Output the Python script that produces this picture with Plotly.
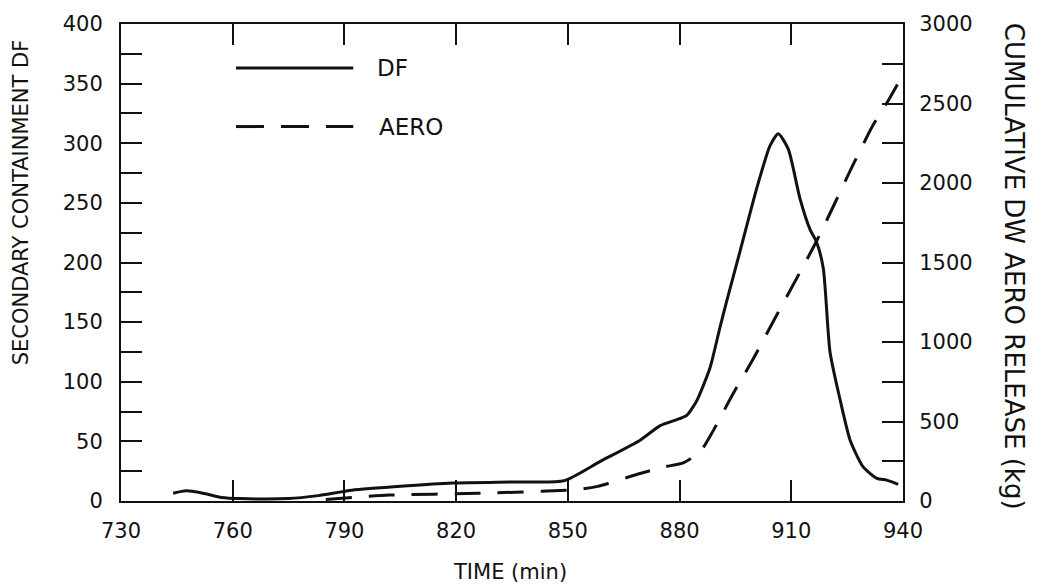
import plotly.graph_objects as go

# ---- data ----
df_time = [744, 747.5, 752, 757, 762, 775, 783, 792, 806, 819, 837, 849, 858.6, 869.4,
           874.7, 880, 882, 884.6, 888.2, 890.8, 892.6, 896.2, 900.7, 904.3, 906.5,
           909.2, 912.3, 915, 916.8, 918.6, 920.4, 923.1, 925.8, 929.3, 933, 935.6, 938.7]
df_value = [6.5, 8.5, 6.5, 3, 2, 2, 4.5, 9, 12.5, 15, 16, 17, 33, 51,
            63, 69, 72, 84, 112, 145, 167, 209, 262, 298, 308,
            295, 254, 228, 217, 195, 125, 85, 51, 28.6, 19, 17.5, 14]

aero_time = [785, 802, 826, 853, 858, 869.4, 876, 881, 885.5, 888.6, 894.4, 899.8,
             905.4, 916.8, 926.6, 932, 935.6, 938.5]
aero_value = [10, 37, 48, 73, 92, 173, 215, 240, 309, 424, 676, 895,
              1140, 1635, 2115, 2366, 2501, 2620]

x_ticks = [730, 760, 790, 820, 850, 880, 910, 940]
left_ticks = [0, 50, 100, 150, 200, 250, 300, 350, 400]
right_ticks = [0, 500, 1000, 1500, 2000, 2500, 3000]

FONT = "DejaVu Sans"
BLACK = "#111111"

fig = go.Figure()
fig.add_trace(go.Scatter(x=df_time, y=df_value, mode="lines", name="DF",
                         line=dict(color=BLACK, width=3, shape="spline", smoothing=0.6),
                         showlegend=False))
fig.add_trace(go.Scatter(x=aero_time, y=aero_value, mode="lines", name="AERO", yaxis="y2",
                         line=dict(color=BLACK, width=3, dash="26px,17px",
                                   shape="spline", smoothing=0.6),
                         showlegend=False))

axis_common = dict(showline=True, linecolor=BLACK, linewidth=2, ticks="inside",
                   ticklen=21, tickwidth=1.5, tickcolor=BLACK, showgrid=False,
                   zeroline=False, tickfont=dict(family=FONT, size=21, color=BLACK))

fig.update_layout(
    width=1046, height=585,
    margin=dict(l=121, r=143, t=22, b=84),
    paper_bgcolor="white", plot_bgcolor="white",
    xaxis=dict(range=[730, 940], tickvals=x_ticks, mirror="ticks", ticklabelstandoff=10,
               **axis_common),
    yaxis=dict(range=[0, 400], tickvals=left_ticks, ticklabelstandoff=12,
               minor=dict(dtick=25, ticks="inside", ticklen=21, tickwidth=1.5, tickcolor=BLACK),
               **axis_common),
    yaxis2=dict(range=[0, 3000], tickvals=right_ticks, overlaying="y", side="right",
                ticklabelstandoff=10,
                minor=dict(dtick=250, ticks="inside", ticklen=21, tickwidth=1.5, tickcolor=BLACK),
                **axis_common),
)

# axis titles
fig.add_annotation(text="SECONDARY CONTAINMENT DF", xref="paper", yref="paper",
                   x=-0.128, y=0.626, textangle=-90, showarrow=False,
                   xanchor="center", yanchor="middle",
                   font=dict(family=FONT, size=21, color=BLACK))
fig.add_annotation(text="CUMULATIVE DW AERO RELEASE (kg)", xref="paper", yref="paper",
                   x=1.142, y=0.493, textangle=90, showarrow=False,
                   xanchor="center", yanchor="middle",
                   font=dict(family=FONT, size=26, color=BLACK))
fig.add_annotation(text="TIME (min)", xref="paper", yref="paper",
                   x=0.498, y=-0.148, showarrow=False,
                   xanchor="center", yanchor="middle",
                   font=dict(family=FONT, size=21, color=BLACK))

# legend
fig.add_shape(type="line", xref="paper", yref="paper", x0=0.147, x1=0.297, y0=0.908, y1=0.908,
              line=dict(color=BLACK, width=3))
fig.add_shape(type="line", xref="paper", yref="paper", x0=0.147, x1=0.297, y0=0.785, y1=0.785,
              line=dict(color=BLACK, width=3, dash="28px,17px"))
fig.add_annotation(text="DF", xref="paper", yref="paper", x=0.325, y=0.908,
                   xanchor="left", yanchor="middle",
                   showarrow=False, font=dict(family=FONT, size=23, color=BLACK))
fig.add_annotation(text="AERO", xref="paper", yref="paper", x=0.327, y=0.785,
                   xanchor="left", yanchor="middle",
                   showarrow=False, font=dict(family=FONT, size=23, color=BLACK))

# remove the default page margin so the figure sits at the window's top-left corner
fig.write_html("out.html", config={"displayModeBar": False},
               post_script="document.body.style.margin='0';document.body.style.overflow='hidden';")
